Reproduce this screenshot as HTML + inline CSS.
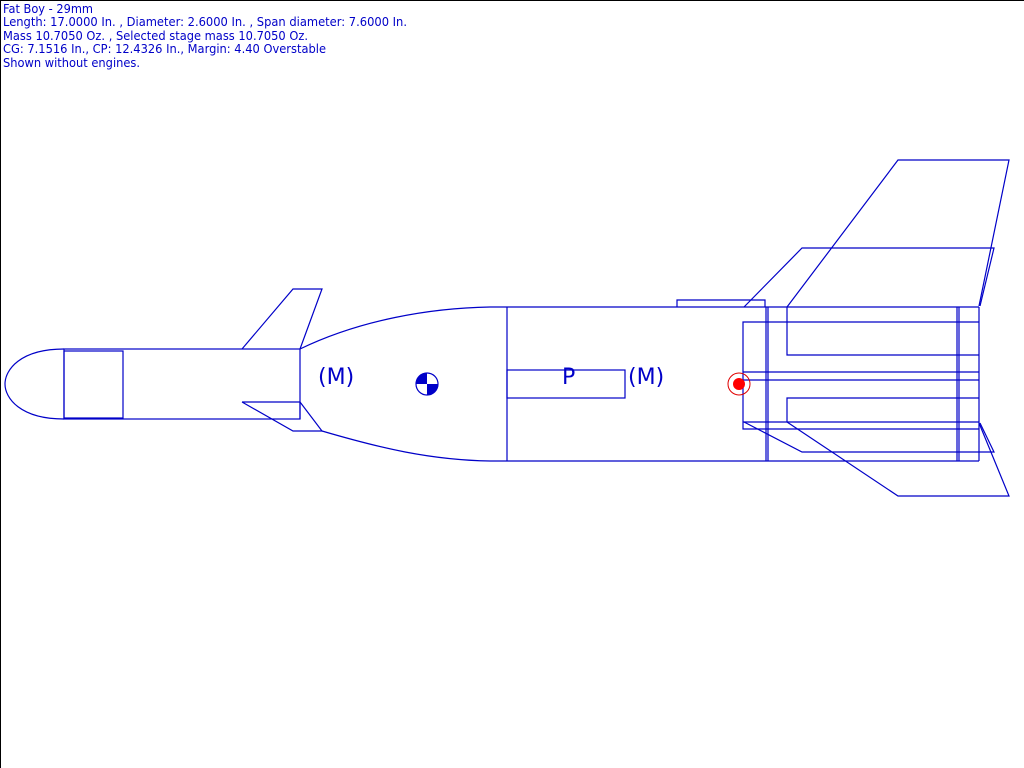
<!DOCTYPE html>
<html><head><meta charset="utf-8"><style>
html,body{margin:0;padding:0;background:#fff;}
svg{display:block;}
</style></head><body>
<svg width="1024" height="768" viewBox="0 0 1024 768" xmlns="http://www.w3.org/2000/svg">
<rect x="0" y="0" width="1024" height="768" fill="#fff"/>
<line x1="0.5" y1="0" x2="0.5" y2="768" stroke="#000"/>
<line x1="0" y1="0.5" x2="1024" y2="0.5" stroke="#000"/>
<g font-family="Tahoma, 'DejaVu Sans', 'Liberation Sans', sans-serif" font-size="12" fill="#0000c8">
<text x="3" y="13" textLength="90" lengthAdjust="spacingAndGlyphs">Fat Boy - 29mm</text>
<text x="3" y="26" textLength="404" lengthAdjust="spacingAndGlyphs">Length: 17.0000 In. , Diameter: 2.6000 In. , Span diameter: 7.6000 In.</text>
<text x="3" y="40" textLength="305" lengthAdjust="spacingAndGlyphs">Mass 10.7050 Oz. , Selected stage mass 10.7050 Oz.</text>
<text x="3" y="53" textLength="323" lengthAdjust="spacingAndGlyphs">CG: 7.1516 In., CP: 12.4326 In., Margin: 4.40 Overstable</text>
<text x="3" y="67" textLength="137" lengthAdjust="spacingAndGlyphs">Shown without engines.</text>
</g>
<g fill="none" stroke="#0000c8" stroke-width="1.2">
<!-- nose -->
<path d="M64,349 C20,349 5,370 5,384 C5,398 20,419 64,419"/>
<rect x="64" y="349" width="236" height="70"/>
<rect x="64" y="351" width="59" height="67"/>
<!-- top front fin -->
<polyline points="242,349 293,289 322,289 300,349"/>
<!-- bottom front fin -->
<polyline points="242,402 300,402 322,431 293,431 242,402"/>
<line x1="300" y1="402" x2="300" y2="419"/>
<!-- transition -->
<path d="M300,349 C360,320 430,308 490,307 L979,307"/>
<path d="M322,431 C380,448 430,460 490,461 L979,461"/>
<line x1="507" y1="307" x2="507" y2="461"/>
<rect x="507" y="370" width="118" height="28"/>
<!-- launch lug -->
<polyline points="677,307 677,300 765,300 765,307"/>
<!-- rear -->
<line x1="766" y1="307" x2="766" y2="461"/>
<line x1="768" y1="307" x2="768" y2="461"/>
<line x1="957" y1="307" x2="957" y2="461"/>
<line x1="959" y1="307" x2="959" y2="461"/>
<line x1="979" y1="307" x2="979" y2="461"/>
<polyline points="979,322 743,322 743,429 979,429"/>
<line x1="743" y1="372" x2="979" y2="372"/>
<line x1="743" y1="380" x2="979" y2="380"/>
<line x1="743" y1="422" x2="979" y2="422"/>
<polyline points="787,307 787,355 979,355"/>
<polyline points="979,398 787,398 787,422"/>
<!-- big top fin -->
<polyline points="787,307 898,160 1009,160 979,306"/>
<!-- second top fin -->
<polyline points="744,307 802,248 994,248 980,306"/>
<!-- second bottom fin -->
<polyline points="744,422 802,452 994,452 980,423"/>
<!-- big bottom fin -->
<polyline points="787,422 898,496 1009,496 979,423"/>
</g>
<g font-family="Tahoma, 'DejaVu Sans', 'Liberation Sans', sans-serif" font-size="22" fill="#0000c8">
<text x="318" y="384">(M)</text>
<text x="562" y="384">P</text>
<text x="628" y="384">(M)</text>
</g>
<!-- CG -->
<circle cx="427" cy="384" r="11" fill="#fff" stroke="#0000c8" stroke-width="1.2"/>
<path d="M427,384 L416,384 A11,11 0 0 1 427,373 Z" fill="#0000c8"/>
<path d="M427,384 L438,384 A11,11 0 0 1 427,395 Z" fill="#0000c8"/>
<!-- CP -->
<circle cx="739" cy="384" r="11" fill="none" stroke="#e00000" stroke-width="1"/>
<circle cx="739" cy="384" r="6" fill="#ff0000"/>
</svg>
</body></html>
